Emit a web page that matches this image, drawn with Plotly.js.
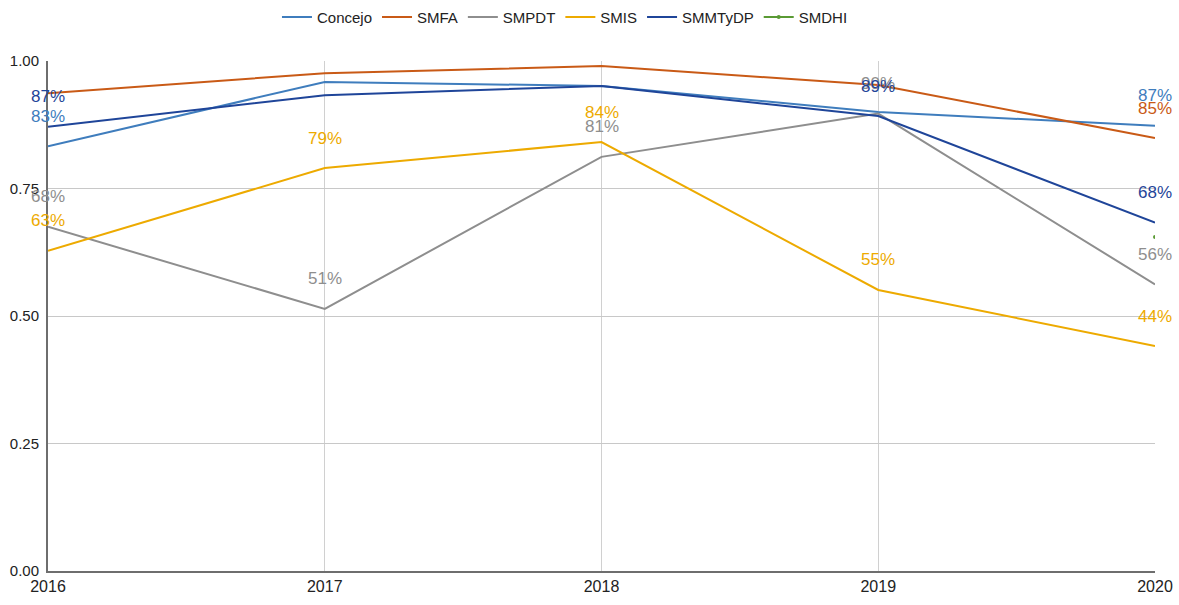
<!DOCTYPE html>
<html>
<head>
<meta charset="utf-8">
<script src="https://cdn.plot.ly/plotly-3.0.1.min.js"></script>
<style>html,body{margin:0;padding:0;background:#fff;}#chart{width:1179px;height:605px;}</style>
</head>
<body>
<div id="chart"></div>
<script>
const years = ['2016', '2017', '2018', '2019', '2020'];
const seriesNames = ['Concejo', 'SMFA', 'SMPDT', 'SMIS', 'SMMTyDP', 'SMDHI'];
const concejo = [0.833, 0.959, 0.951, 0.900, 0.873];
const smfa    = [0.937, 0.976, 0.990, 0.953, 0.849];
const smpdt   = [0.675, 0.514, 0.812, 0.897, 0.562];
const smis    = [0.628, 0.790, 0.841, 0.551, 0.441];
const smmtydp = [0.871, 0.933, 0.951, 0.892, 0.683];
const smdhi   = [null, null, null, null, 0.655];
// which points carry a data label (index into years)
const labelIdx = {
  Concejo: [0, 4],
  SMFA: [4],
  SMPDT: [0, 1, 2, 3, 4],
  SMIS: [0, 1, 2, 3, 4],
  SMMTyDP: [0, 3, 4],
  SMDHI: []
};
const colors = {
  Concejo: '#3F7DBD',
  SMFA: '#C95A16',
  SMPDT: '#8E8E8E',
  SMIS: '#EDAA00',
  SMMTyDP: '#1F4599',
  SMDHI: '#5A9A34'
};
const values = {Concejo: concejo, SMFA: smfa, SMPDT: smpdt, SMIS: smis, SMMTyDP: smmtydp, SMDHI: smdhi};

const FONT = '"Liberation Sans", Arial, sans-serif';

const traces = seriesNames.map(n => ({
  type: 'scatter',
  mode: n === 'SMDHI' ? 'lines+markers' : 'lines',
  name: n,
  x: years,
  y: values[n],
  line: {color: colors[n], width: 2},
  marker: {color: colors[n], size: 4},
  hoverinfo: 'x+y+name'
}));

const annotations = [];
seriesNames.forEach(n => {
  labelIdx[n].forEach(i => {
    annotations.push({
      x: i, y: values[n][i], xref: 'x', yref: 'y',
      text: Math.round(values[n][i] * 100) + '%',
      showarrow: false, yshift: 30, xanchor: 'center', yanchor: 'middle',
      font: {family: FONT, size: 17, color: colors[n]}
    });
  });
});

const layout = {
  width: 1179, height: 605,
  margin: {l: 48, r: 24, t: 61, b: 34, pad: 0, autoexpand: false},
  paper_bgcolor: '#fff', plot_bgcolor: '#fff',
  showlegend: true,
  legend: {
    orientation: 'h', x: 0.467, xanchor: 'center', y: 1.086, yanchor: 'middle',
    font: {family: FONT, size: 15, color: '#222'}, itemwidth: 30, tracegroupgap: 0
  },
  xaxis: {
    type: 'category', range: [0, 4], showgrid: true, gridcolor: '#D0D0D0', gridwidth: 1,
    showline: true, linecolor: '#6E6E6E', linewidth: 2, zeroline: false,
    ticks: '', tickfont: {family: FONT, size: 16, color: '#222'}, fixedrange: true
  },
  yaxis: {
    range: [0, 1], tickvals: [0, 0.25, 0.5, 0.75, 1], tickformat: '.2f',
    showgrid: true, gridcolor: '#C8C8C8', gridwidth: 1,
    showline: true, linecolor: '#6E6E6E', linewidth: 2, zeroline: false,
    ticks: '', ticklabelstandoff: 4, tickfont: {family: FONT, size: 15, color: '#222'}, fixedrange: true
  },
  annotations: annotations
};

Plotly.newPlot('chart', traces, layout, {displayModeBar: false, staticPlot: true});
</script>
</body>
</html>
